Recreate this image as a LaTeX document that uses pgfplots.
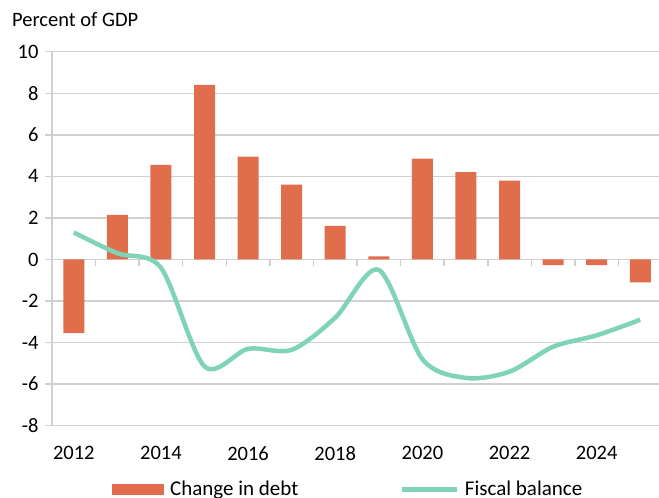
\documentclass[border=0pt]{standalone}
\usepackage{pgfplots}
\pgfplotsset{compat=1.18}
\usepackage{fontspec}
\setmainfont{Carlito}
\definecolor{debtc}{HTML}{E06E4C}
\definecolor{fiscc}{HTML}{7FD4B6}
\definecolor{gridc}{HTML}{D0D0D0}

\begin{document}
\begin{tikzpicture}[x=1pt,y=1pt]
\path[use as bounding box] (0,0) rectangle (659,498);
\node[anchor=base west, inner sep=0pt, font=\fontsize{20.5}{24}\selectfont] at (12,471.3) {Percent of GDP};
\begin{axis}[
  at={(52pt,72.3pt)}, anchor=south west,
  scale only axis, width=607pt, height=374pt,
  xmin=-0.5, xmax=13.43, ymin=-8, ymax=10,
  axis x line*=bottom, axis y line*=left,
  axis line style={gridc, line width=1.5pt, -},
  ytick={-8,-6,...,10},
  ymajorgrids, grid style={gridc, line width=1.5pt},
  xtick={0,2,4,6,8,10,12},
  xticklabels={2012,2014,2016,2018,2020,2022,2024},
  major x tick style={draw=none},
  major y tick style={gridc, line width=1.5pt},
  tick align=outside, major tick length=7pt,
  ticklabel style={font=\fontsize{20.5}{24}\selectfont},
  /pgf/number format/assume math mode=true,
  yticklabel style={xshift=-3pt},
  xticklabel style={yshift=-10pt},
  clip=false,
  legend columns=2,
  legend style={at={(axis description cs:0.0988,-0.1915)}, anchor=south west,
    draw=none, fill=none, inner sep=0pt,
    font=\fontsize{21}{24}\selectfont,
    /tikz/every odd column/.append style={column sep=6pt},
    /tikz/every even column/.append style={column sep=101pt},
    nodes={inner sep=0pt, anchor=base west}},
]
\pgfplotsinvokeforeach{0.5,1.5,2.5,3.5,4.5,5.5,6.5,7.5,8.5,9.5,10.5,11.5,12.5}{
  \draw[gridc, line width=1.5pt] (axis cs:#1,0) -- ([yshift=-6.5pt]axis cs:#1,0);
}
\addplot[ybar, bar width=21pt, fill=debtc, draw=none,
  legend image code/.code={\fill[debtc] (0pt,0.7pt) rectangle (52pt,11.7pt);}]
  coordinates {
  (0,-3.55) (1,2.15) (2,4.55) (3,8.4) (4,4.95) (5,3.6) (6,1.62)
  (7,0.15) (8,4.85) (9,4.2) (10,3.8) (11,-0.27) (12,-0.27) (13,-1.1)
};
\addlegendentry{Change in debt}
\addplot[fiscc, line width=4.5pt, smooth, tension=0.5, mark=none,
  legend image code/.code={\draw[fiscc, line width=4.5pt] (0pt,6.3pt) -- (55pt,6.3pt);}]
  coordinates {
  (0,1.3) (1,0.3) (2,-0.4) (3,-5.15) (4,-4.3) (5,-4.35) (6,-2.8)
  (7,-0.5) (8,-4.8) (9,-5.7) (10,-5.4) (11,-4.2) (12,-3.65) (13,-2.9)
};
\addlegendentry{Fiscal balance}
\end{axis}
\end{tikzpicture}
\end{document}
